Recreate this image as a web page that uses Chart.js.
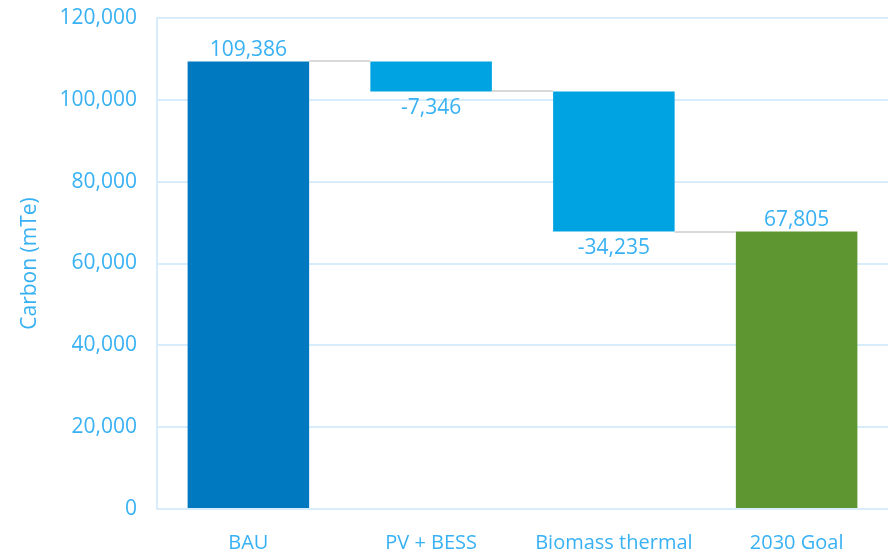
<!DOCTYPE html>
<html>
<head>
<meta charset="utf-8">
<script src="https://cdn.jsdelivr.net/npm/chart.js@4"></script>
<style>
  html, body { margin: 0; padding: 0; background: #ffffff; }
  #wrap { width: 888px; height: 554px; position: relative; }
</style>
</head>
<body>
<div id="wrap"><canvas id="c"></canvas></div>
<script>
// ---- data ----
const categories = ['BAU', 'PV + BESS', 'Biomass thermal', '2030 Goal'];
const startValue = 109386;            // BAU
const changes = [-7346, -34235];      // PV + BESS, Biomass thermal
const goalValue = 67805;              // 2030 Goal
const yTicks = [0, 20000, 40000, 60000, 80000, 100000, 120000];

// ---- build floating bars ----
const ranges = [];
const labelsTxt = [];
const labelAbove = [];
ranges.push([0, startValue]);
labelsTxt.push(startValue);
labelAbove.push(true);
let running = startValue;
changes.forEach(c => {
  const next = running + c;
  ranges.push([Math.min(running, next), Math.max(running, next)]);
  labelsTxt.push(c);
  labelAbove.push(c >= 0);
  running = next;
});
ranges.push([0, goalValue]);
labelsTxt.push(goalValue);
labelAbove.push(true);
const levels = [startValue];
{ let r = startValue; changes.forEach(c => { r += c; levels.push(r); }); }

const TEXT = '#38B1F4';
const GRID = '#D8EDFB';
const FONT = "'Open Sans', sans-serif";
const colors = ['#0079C1', '#00A3E2', '#00A3E2', '#5E9732'];

const fmt = v => v.toLocaleString('en-US');

const waterfallPlugin = {
  id: 'waterfall',
  afterDatasetsDraw(chart) {
    const ctx = chart.ctx;
    const meta = chart.getDatasetMeta(0);
    const y = chart.scales.y;
    ctx.save();
    // connectors
    ctx.strokeStyle = '#D9D9D9';
    ctx.lineWidth = 2;
    for (let i = 0; i < meta.data.length - 1; i++) {
      const a = meta.data[i], b = meta.data[i + 1];
      const py = Math.round(y.getPixelForValue(levels[i]));
      ctx.beginPath();
      ctx.moveTo(a.x + a.width / 2, py);
      ctx.lineTo(b.x - b.width / 2, py);
      ctx.stroke();
    }
    // labels
    ctx.fillStyle = TEXT;
    ctx.font = "21px " + FONT;
    ctx.textAlign = 'center';
    meta.data.forEach((bar, i) => {
      const r = ranges[i];
      if (labelAbove[i]) {
        ctx.textBaseline = 'bottom';
        ctx.fillText(fmt(labelsTxt[i]), bar.x, y.getPixelForValue(r[1]) - 1);
      } else {
        ctx.textBaseline = 'top';
        ctx.fillText(fmt(labelsTxt[i]), bar.x, y.getPixelForValue(r[0]) + 6);
      }
    });
    ctx.restore();
  }
};

new Chart(document.getElementById('c'), {
  type: 'bar',
  data: {
    labels: categories,
    datasets: [{
      data: ranges,
      backgroundColor: colors,
      borderWidth: 0,
      borderSkipped: false,
      barPercentage: 1,
      categoryPercentage: 0.665
    }]
  },
  plugins: [waterfallPlugin],
  options: {
    responsive: true,
    maintainAspectRatio: false,
    animation: false,
    layout: { padding: { top: 18, right: 0, bottom: 0, left: 0 } },
    plugins: { legend: { display: false }, tooltip: { enabled: false } },
    scales: {
      x: {
        afterFit: s => { s.height = 45; s.paddingLeft = 0; s.paddingRight = 0; },
        grid: { display: false, drawTicks: false },
        border: { display: true, color: GRID, width: 2 },
        ticks: { color: TEXT, font: { family: FONT, size: 20 }, padding: 22, maxRotation: 0 }
      },
      y: {
        min: 0, max: 120000,
        afterBuildTicks: s => { s.ticks = yTicks.map(v => ({ value: v })); },
        afterFit: s => { s.width = 157; s.paddingTop = 0; s.paddingBottom = 0; },
        grid: { color: GRID, lineWidth: 2, drawTicks: false },
        border: { display: true, color: GRID, width: 2 },
        ticks: { color: TEXT, font: { family: FONT, size: 21 }, padding: 20, callback: v => fmt(v) },
        title: { display: true, text: 'Carbon (mTe)', color: TEXT, font: { family: FONT, size: 21 }, padding: { top: 17, bottom: 0 } }
      }
    }
  }
});
</script>
</body>
</html>
